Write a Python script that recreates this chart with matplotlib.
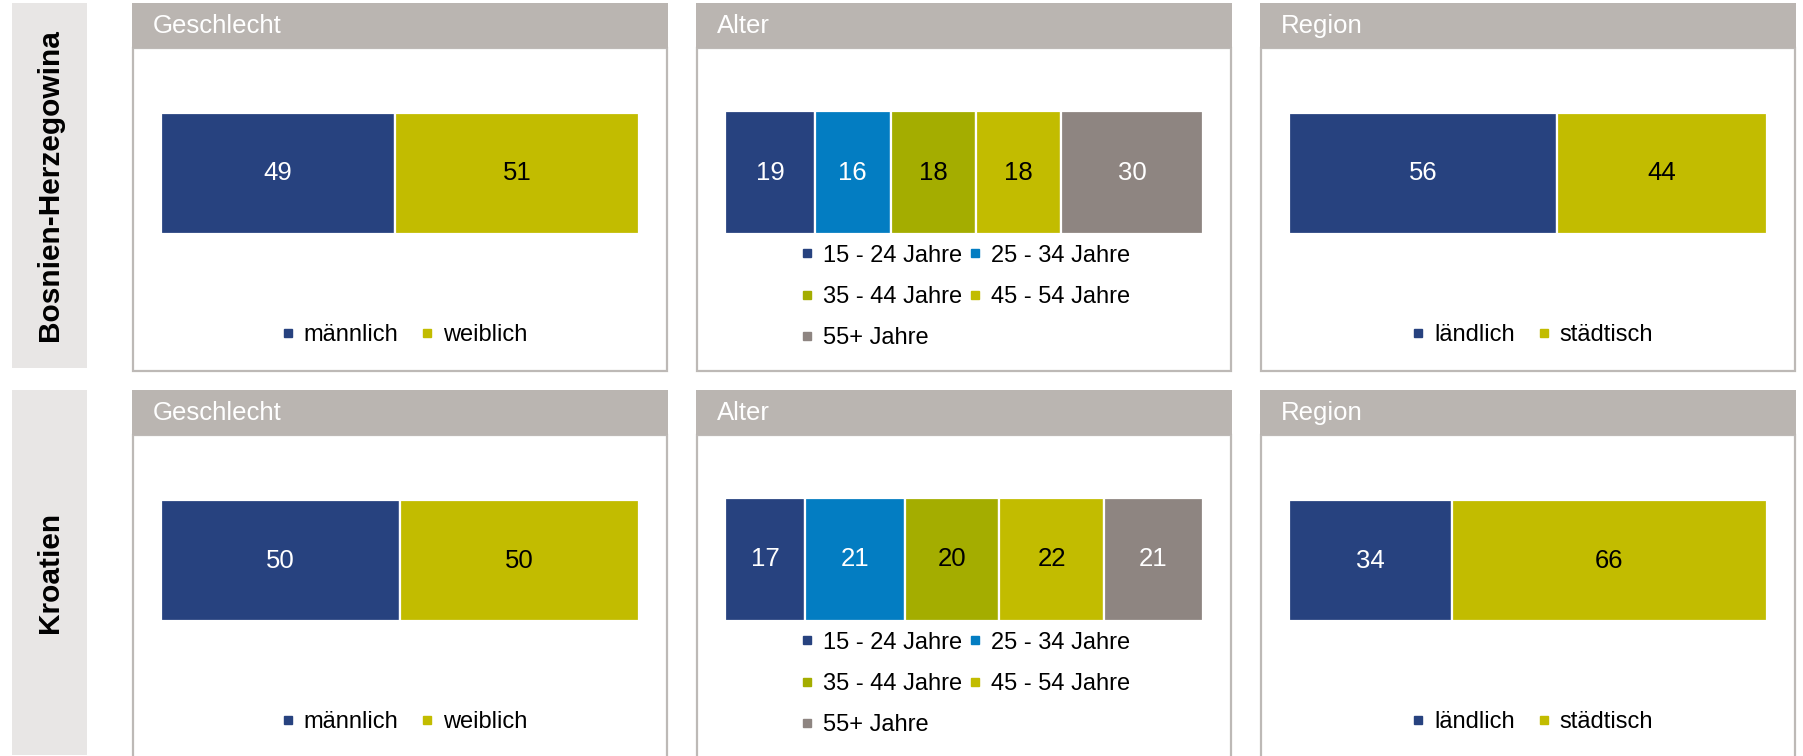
import matplotlib
matplotlib.use("Agg")
import matplotlib.pyplot as plt
from matplotlib.patches import Rectangle
from matplotlib.lines import Line2D

plt.rcParams['font.family'] = ['Liberation Sans', 'DejaVu Sans']

# ---- data ----
countries = ["Bosnien-Herzegowina", "Kroatien"]
panel_titles = ["Geschlecht", "Alter", "Region"]

gender_labels = ["männlich", "weiblich"]
age_labels = ["15 - 24 Jahre", "25 - 34 Jahre", "35 - 44 Jahre", "45 - 54 Jahre", "55+ Jahre"]
region_labels = ["ländlich", "städtisch"]

gender_bih = [49, 51]
age_bih = [19, 16, 18, 18, 30]
region_bih = [56, 44]

gender_hr = [50, 50]
age_hr = [17, 21, 20, 22, 21]
region_hr = [34, 66]

# ---- styling ----
DARK_BLUE = "#27427F"
LIGHT_BLUE = "#037DC2"
OLIVE = "#A4AD00"
YELLOW = "#C2BC00"
GREY = "#8E8581"

gender_colors = [DARK_BLUE, YELLOW]
age_colors = [DARK_BLUE, LIGHT_BLUE, OLIVE, YELLOW, GREY]
region_colors = [DARK_BLUE, YELLOW]
white_text = {DARK_BLUE, LIGHT_BLUE, GREY}

HEADER_C = "#BAB5B1"
BORDER_C = "#BDB9B6"
LABELBOX_C = "#E8E6E5"

W, H = 1803, 756
fig = plt.figure(figsize=(W / 100, H / 100), dpi=100)
fig.patch.set_facecolor("white")


def fx(x):
    return x / W


def fy(y):
    return 1 - y / H


def add_rect(x0, y0, x1, y1, **kw):
    r = Rectangle((fx(x0), fy(y1)), (x1 - x0) / W, (y1 - y0) / H,
                  transform=fig.transFigure, figure=fig, zorder=-5, **kw)
    fig.patches.append(r)
    return r


rows = [
    (countries[0], [gender_bih, age_bih, region_bih]),
    (countries[1], [gender_hr, age_hr, region_hr]),
]
labels_per_panel = [gender_labels, age_labels, region_labels]
colors_per_panel = [gender_colors, age_colors, region_colors]

col_x = [132, 696, 1260]
PW = 536
ROW_OFF = 387

for r, (country, panels) in enumerate(rows):
    off = r * ROW_OFF
    # country label box
    add_rect(12, 3 + off, 87, min(368 + off, H + 5), facecolor=LABELBOX_C, edgecolor="none")
    ybox_bottom = min(368 + off, H)
    fig.text(fx(49.5), fy((3 + off + ybox_bottom) / 2), country, rotation=90,
             ha="center", va="center", fontsize=21.5, fontweight="bold", color="black")

    for c, vals in enumerate(panels):
        x0 = col_x[c]
        # panel border
        add_rect(x0 + 1, 48 + off, x0 + PW - 1, 371 + off, facecolor="white",
                 edgecolor=BORDER_C, linewidth=1.6)
        # header
        add_rect(x0, 3 + off, x0 + PW, 48 + off, facecolor=HEADER_C, edgecolor="none")
        fig.text(fx(x0 + 21), fy(26 + off), panel_titles[c], ha="left", va="center",
                 fontsize=18.5, color="white")

        # bar axes
        top = (111 if c == 1 else 113) + off
        bot = 234 + off
        ax = fig.add_axes([fx(x0 + 29), fy(bot), 478 / W, (bot - top) / H])
        ax.set_zorder(5)
        ax.set_axis_off()
        total = sum(vals)
        left = 0
        cols = colors_per_panel[c]
        for v, col, lab in zip(vals, cols, labels_per_panel[c]):
            ax.barh(0, v, left=left, height=1.0, color=col, edgecolor="white",
                    linewidth=1.6, label=lab)
            ax.text(left + v / 2, 0, str(v), ha="center", va="center", fontsize=18.5,
                    color="white" if col in white_text else "black")
            left += v
        ax.set_xlim(0, total)
        ax.set_ylim(-0.5, 0.5)

        handles = [Line2D([], [], linestyle="none", marker="s", markersize=5.6,
                          markerfacecolor=col, markeredgecolor=col)
                   for col in cols]
        labs = list(labels_per_panel[c])
        if c == 1:
            order = [0, 2, 4, 1, 3]
            handles = [handles[i] for i in order]
            labs = [labs[i] for i in order]
            leg = fig.legend(handles, labs, loc="center",
                             bbox_to_anchor=(fx(x0 + PW / 2 + 2), fy(297 + off)),
                             ncol=2, frameon=False, fontsize=17,
                             handlelength=0.45, handletextpad=0.45,
                             columnspacing=0.35, labelspacing=0.82,
                             borderpad=0.0)
        else:
            leg = fig.legend(handles, labs, loc="center",
                             bbox_to_anchor=(fx(x0 + PW / 2 + 5), fy(335 + off)),
                             ncol=2, frameon=False, fontsize=17,
                             handlelength=0.45, handletextpad=0.45,
                             columnspacing=1.0, borderpad=0.0)
        leg.set_zorder(6)

fig.savefig("out.png", dpi=100, facecolor="white")
